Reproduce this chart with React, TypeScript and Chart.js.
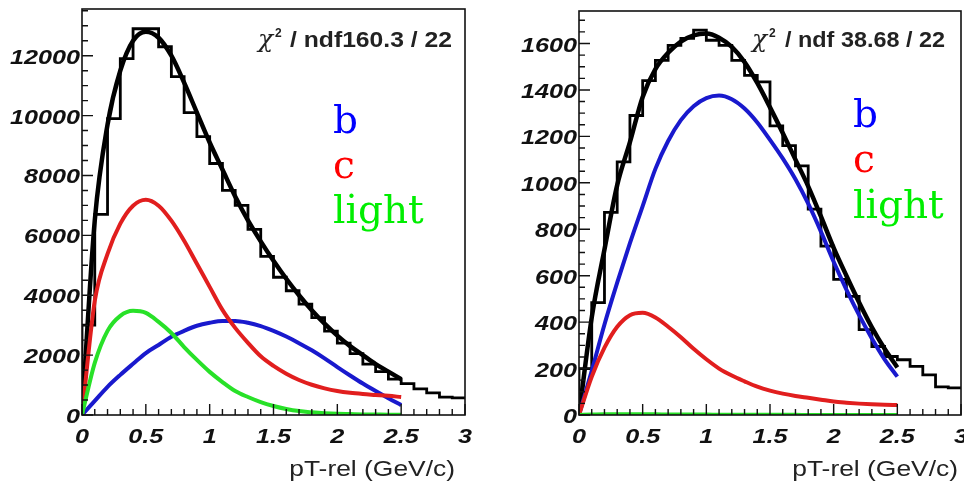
import { useEffect, useRef } from "react";
import { Chart, registerables } from "chart.js";
Chart.register(...registerables);

const X_MAX = 3;
const CURVE_X = [0, 0.1, 0.2, 0.3, 0.4, 0.5, 0.6, 0.7, 0.8, 0.9, 1.0, 1.1, 1.2, 1.3, 1.4, 1.5, 1.6, 1.7, 1.8, 1.9, 2.0, 2.1, 2.2, 2.3, 2.4, 2.5];
const BIN_LOW = [0, 0.1, 0.2, 0.3, 0.4, 0.5, 0.6, 0.7, 0.8, 0.9, 1.0, 1.1, 1.2, 1.3, 1.4, 1.5, 1.6, 1.7, 1.8, 1.9, 2.0, 2.1, 2.2, 2.3, 2.4, 2.5, 2.6, 2.7, 2.8, 2.9];
const X_TICK_LABELS = ["0", "0.5", "1", "1.5", "2", "2.5", "3"];

// Left panel
const HIST_L = [3000, 6700, 9900, 11900, 12900, 12900, 12300, 11300, 10100, 9300, 8400, 7500, 7000, 6200, 5300, 4600, 4150, 3700, 3250, 2800, 2400, 2050, 1700, 1450, 1200, 1050, 870, 740, 600, 570];
const FIT_L = [0, 6500, 9700, 11500, 12500, 12800, 12600, 12000, 11100, 10100, 9100, 8200, 7300, 6500, 5800, 5150, 4550, 4000, 3500, 3050, 2650, 2300, 2000, 1700, 1450, 1200];
const B_L = [0, 470, 940, 1340, 1710, 2070, 2340, 2610, 2810, 2980, 3080, 3140, 3140, 3080, 2970, 2810, 2620, 2400, 2160, 1890, 1600, 1320, 1050, 800, 560, 330];
const C_L = [0, 3810, 5380, 6390, 6990, 7190, 6990, 6490, 5820, 5050, 4280, 3510, 2910, 2410, 1960, 1640, 1380, 1170, 1010, 890, 800, 740, 700, 670, 640, 600];
const LIGHT_L = [0, 1740, 2810, 3310, 3480, 3410, 3110, 2740, 2270, 1840, 1440, 1100, 800, 600, 430, 300, 200, 130, 90, 60, 40, 30, 20, 15, 10, 10];
const Y_LABELS_L = ["0", "2000", "4000", "6000", "8000", "10000", "12000"];
const CHI_L = "160.3 / 22";

// Right panel
const HIST_R = [200, 484, 873, 1090, 1290, 1440, 1527, 1592, 1622, 1658, 1614, 1592, 1527, 1463, 1435, 1245, 1160, 1073, 887, 727, 584, 511, 368, 295, 252, 238, 209, 173, 121, 117];
const FIT_R = [0, 420, 713, 990, 1175, 1370, 1490, 1560, 1608, 1635, 1643, 1625, 1585, 1520, 1430, 1325, 1215, 1100, 985, 855, 720, 600, 485, 378, 285, 205];
const B_R = [0, 190, 390, 570, 740, 900, 1060, 1180, 1270, 1330, 1365, 1376, 1360, 1320, 1260, 1185, 1105, 1015, 910, 790, 660, 540, 430, 330, 240, 165];
const C_R = [0, 165, 290, 380, 430, 440, 420, 380, 335, 285, 240, 200, 170, 145, 122, 105, 92, 82, 74, 66, 58, 53, 49, 46, 44, 43];
const LIGHT_R = [0, 2, 3, 3, 3, 3, 3, 2, 2, 2, 2, 1, 1, 1, 1, 1, 1, 1, 0, 0, 0, 0, 0, 0, 0, 0];
const Y_LABELS_R = ["0", "200", "400", "600", "800", "1000", "1200", "1400", "1600"];
const CHI_R = "38.68 / 22";

const LEGEND = ["b", "c", "light"];
const LEGEND_COLORS = ["#0000ff", "#ff0000", "#00ee00"];
const CURVE_COLORS = ["rgb(25,25,205)", "rgb(225,30,30)", "rgb(40,225,40)"];

const pts = (xs: number[], ys: number[]) => ys.map((y, i) => ({ x: xs[i], y }));
const histPts = (vals: number[]) => {
  const p = [{ x: 0, y: 0 }, ...vals.map((v, i) => ({ x: BIN_LOW[i], y: v }))];
  p.push({ x: X_MAX, y: vals[vals.length - 1] });
  return p;
};

function drawText(ctx: CanvasRenderingContext2D, text: string, x: number, y: number, font: string, color: string, align: string, sx: number) {
  ctx.save();
  ctx.font = font;
  ctx.fillStyle = color;
  ctx.textBaseline = "alphabetic";
  ctx.textAlign = "left";
  const w = ctx.measureText(text).width * sx;
  const x0 = align === "right" ? x - w : align === "center" ? x - w / 2 : x;
  ctx.translate(x0, y);
  ctx.scale(sx, 1);
  ctx.fillText(text, 0, 0);
  ctx.restore();
}
function drawFit(ctx: CanvasRenderingContext2D, text: string, x0: number, x1: number, y: number, font: string, color: string) {
  ctx.save();
  ctx.font = font;
  const w = ctx.measureText(text).width;
  ctx.restore();
  drawText(ctx, text, x0, y, font, color, "left", (x1 - x0) / w);
}

type PanelProps = {
  left: number; width: number; padTop: number; padRight: number; yw: number; xh: number;
  yMax: number; yStep: number; yMinor: number; yLabels: string[];
  hist: number[]; fit: number[]; b: number[]; c: number[]; light: number[];
  chi: string; chiX: number; chiSlashX: number; chiEnd: number; titleEnd: number;
  legX: number; legY: number[];
};

function Panel(p: PanelProps) {
  const ref = useRef<HTMLCanvasElement>(null);
  useEffect(() => {
    const deco = {
      id: "rootdeco",
      afterDraw(chart: any) {
        const ctx = chart.ctx as CanvasRenderingContext2D;
        const xs = chart.scales.x;
        const ys = chart.scales.y;
        const a = chart.chartArea;
        ctx.save();
        ctx.strokeStyle = "#111";
        ctx.lineWidth = 1.6;
        ctx.strokeRect(a.left, a.top, a.right - a.left, a.bottom - a.top);
        ctx.lineWidth = 1.4;
        ctx.beginPath();
        for (let i = 0; i <= 30; i++) {
          const px = xs.getPixelForValue(i * 0.1);
          const len = i % 5 === 0 ? 11 : 6;
          ctx.moveTo(px, a.bottom);
          ctx.lineTo(px, a.bottom - len);
        }
        const nMinor = Math.floor(p.yMax / p.yMinor);
        const perMajor = Math.round(p.yStep / p.yMinor);
        for (let i = 0; i <= nMinor; i++) {
          const py = ys.getPixelForValue(i * p.yMinor);
          const len = i % perMajor === 0 ? 11 : 6;
          ctx.moveTo(a.left, py);
          ctx.lineTo(a.left + len, py);
        }
        ctx.stroke();
        ctx.restore();
        const tf = "italic bold 21px 'Liberation Sans'";
        X_TICK_LABELS.forEach((t, i) => {
          drawText(ctx, t, xs.getPixelForValue(i * 0.5), 443, tf, "#111", "center", 1.2);
        });
        p.yLabels.forEach((t, i) => {
          drawText(ctx, t, a.left - 2, ys.getPixelForValue(i * p.yStep) + 8, tf, "#111", "right", 1.2);
        });
        drawText(ctx, "pT-rel (GeV/c)", p.titleEnd, 476, "22px 'Liberation Sans'", "#222", "right", 1.2);
        drawText(ctx, "χ", p.chiX, 47, "italic 25px 'DejaVu Serif'", "#222", "left", 1);
        drawText(ctx, "2", p.chiX + 17, 37, "bold 12px 'Liberation Sans'", "#222", "left", 1);
        drawFit(ctx, "/ ndf" + (p.chi.startsWith("3") ? " " : "") + p.chi, p.chiSlashX, p.chiEnd, 47, "bold 22px 'Liberation Sans'", "#222");
        LEGEND.forEach((t, i) => {
          drawText(ctx, t, p.legX, p.legY[i], "39px 'DejaVu Serif'", LEGEND_COLORS[i], "left", 1);
        });
      },
    };
    const line = (data: any[], color: string, w: number, order: number, extra: any = {}) => ({
      data, borderColor: color, borderWidth: w, pointRadius: 0, fill: false, order,
      cubicInterpolationMode: "monotone", ...extra,
    });
    const chart = new Chart(ref.current!, {
      type: "line",
      data: {
        datasets: [
          line(pts(CURVE_X, p.light), CURVE_COLORS[2], 4, 0),
          line(pts(CURVE_X, p.c), CURVE_COLORS[1], 4, 1),
          line(pts(CURVE_X, p.b), CURVE_COLORS[0], 4, 2),
          line(pts(CURVE_X, p.fit), "#000", 4.5, 3),
          line(histPts(p.hist), "#000", 2.8, 4, { stepped: "before", cubicInterpolationMode: "default", tension: 0 }),
        ] as any,
      },
      options: {
        animation: false,
        responsive: false,
        events: [],
        layout: { padding: { left: 0, top: p.padTop, right: p.padRight, bottom: 0 } },
        plugins: { legend: { display: false }, tooltip: { enabled: false } },
        scales: {
          x: {
            type: "linear", min: 0, max: X_MAX,
            ticks: { display: false }, grid: { display: false }, border: { display: false },
            afterFit: (s: any) => { s.height = p.xh; },
          },
          y: {
            type: "linear", min: 0, max: p.yMax,
            ticks: { display: false }, grid: { display: false }, border: { display: false },
            afterFit: (s: any) => { s.width = p.yw; },
          },
        },
      } as any,
      plugins: [deco],
    });
    return () => chart.destroy();
  }, []);
  return (
    <canvas ref={ref} width={p.width} height={482}
      style={{ position: "absolute", left: p.left, top: 0, width: p.width, height: 482 }} />
  );
}

export default function App() {
  return (
    <div style={{ position: "fixed", left: 0, top: 0, width: 964, height: 482, background: "#fff", overflow: "hidden" }}>
      <Panel left={0} width={480} padTop={9} padRight={15} yw={82} xh={67}
        yMax={13560} yStep={2000} yMinor={500} yLabels={Y_LABELS_L}
        hist={HIST_L} fit={FIT_L} b={B_L} c={C_L} light={LIGHT_L}
        chi={CHI_L} chiX={258} chiSlashX={290} chiEnd={452} titleEnd={455}
        legX={333} legY={[133, 178, 223]} />
      <Panel left={480} width={484} padTop={11} padRight={3} yw={99} xh={67}
        yMax={1740} yStep={200} yMinor={50} yLabels={Y_LABELS_R}
        hist={HIST_R} fit={FIT_R} b={B_R} c={C_R} light={LIGHT_R}
        chi={CHI_R} chiX={272} chiSlashX={305} chiEnd={465} titleEnd={478}
        legX={373} legY={[127, 172, 218]} />
    </div>
  );
}
